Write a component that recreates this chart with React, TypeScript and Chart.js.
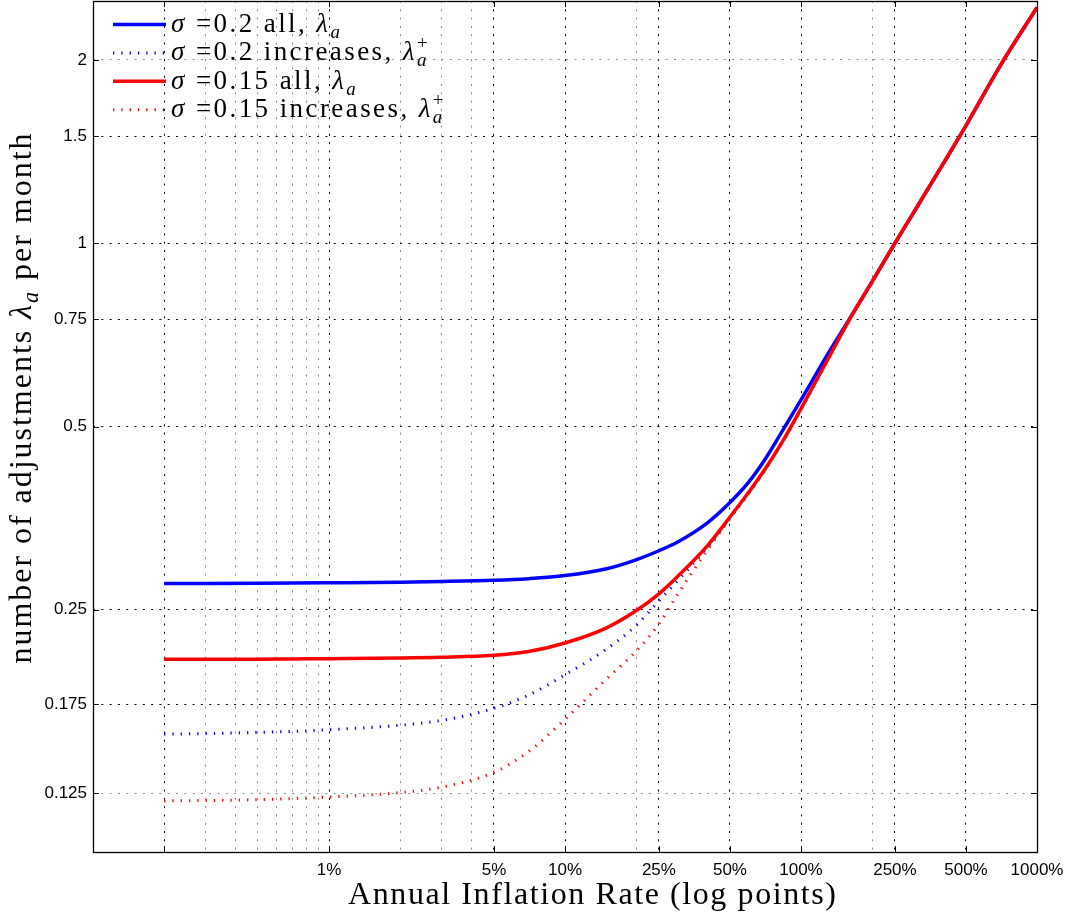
import React, { useEffect, useRef } from 'react';
import { Chart, registerables } from 'chart.js';

Chart.register(...registerables);

// ---- data (annual inflation in %, adjustments per month) ----
const inflation = [0.2, 0.3, 0.5, 0.7, 1, 2, 3, 5, 7, 10, 15, 20, 25, 30, 40, 50, 60, 70, 85, 100, 130, 160, 200, 250, 300, 400, 500, 700, 1000];

const sigma02All = [0.276, 0.2761, 0.2763, 0.2765, 0.2768, 0.2775, 0.2782, 0.2795, 0.2812, 0.2845, 0.292, 0.302, 0.3125, 0.323, 0.347, 0.375, 0.405, 0.44, 0.498, 0.553, 0.658, 0.75, 0.865, 1.0, 1.123, 1.35, 1.56, 1.96, 2.44];
const sigma02Inc = [0.1562, 0.1565, 0.1572, 0.1578, 0.1588, 0.1615, 0.1645, 0.1722, 0.181, 0.1955, 0.2155, 0.2355, 0.2585, 0.279, 0.316, 0.354, 0.389, 0.423, 0.477, 0.534, 0.644, 0.748, 0.864, 1.0, 1.123, 1.35, 1.56, 1.96, 2.44];
const sigma015All = [0.2073, 0.2073, 0.2074, 0.2076, 0.2078, 0.2083, 0.2089, 0.2105, 0.2135, 0.2205, 0.2335, 0.249, 0.2655, 0.2835, 0.318, 0.355, 0.39, 0.424, 0.478, 0.535, 0.645, 0.748, 0.864, 1.0, 1.123, 1.35, 1.56, 1.96, 2.44];
const sigma015Inc = [0.1213, 0.1215, 0.1219, 0.1224, 0.1231, 0.1252, 0.1278, 0.1352, 0.1462, 0.1652, 0.1925, 0.2137, 0.237, 0.265, 0.313, 0.353, 0.388, 0.423, 0.477, 0.534, 0.644, 0.748, 0.864, 1.0, 1.123, 1.35, 1.56, 1.96, 2.44];

const seriesLabels = ['σ =0.2 all, λₐ', 'σ =0.2 increases, λₐ⁺', 'σ =0.15 all, λₐ', 'σ =0.15 increases, λₐ⁺'];

const xTickValues = [1, 5, 10, 25, 50, 100, 250, 500, 1000];
const xTickLabels = ['1%', '5%', '10%', '25%', '50%', '100%', '250%', '500%', '1000%'];
const xDarkGrid = [0.2];
const xLightGrid = [0.3, 0.4, 0.5, 0.6, 0.7, 0.8, 0.9, 2, 3, 4, 20, 200];

const yTickValues = [0.125, 0.175, 0.25, 0.5, 0.75, 1, 1.5, 2];
const yTickLabels = ['0.125', '0.175', '0.25', '0.5', '0.75', '1', '1.5', '2'];
const yLightGrid = [0.125, 2];

const xTitle = 'Annual Inflation Rate (log points)';
const yTitle = 'number of adjustments λₐ per month';

const SERIF = "'Liberation Serif', 'Times New Roman', serif";
const SANS = "'Liberation Sans', Arial, Helvetica, sans-serif";

type Item = { ch: string; font: string; x: number; dy: number; w: number };

function layoutRich(ctx: CanvasRenderingContext2D, text: string, size: number, spacing: number) {
  const chars = Array.from(text);
  const items: Item[] = [];
  let x = 0;
  for (let i = 0; i < chars.length; i++) {
    const c = chars[i];
    let ch = c, italic = false, mode = 'n';
    if (c === 'ₐ') { ch = 'a'; italic = true; mode = 'sub'; }
    else if (c === '⁺') { ch = '+'; mode = 'sup'; }
    else if (c === 'σ' || c === 'λ') { italic = true; }
    const fs = mode === 'n' ? size : size * 0.7;
    const font = `${italic ? 'italic ' : ''}${fs}px ${SERIF}`;
    ctx.font = font;
    const w = ctx.measureText(ch).width;
    const dy = mode === 'sub' ? size * 0.22 : mode === 'sup' ? -size * 0.42 : 0;
    if (mode === 'sup' && i > 0 && chars[i - 1] === 'ₐ') {
      const prev = items[items.length - 1];
      items.push({ ch, font, x: prev.x, dy, w });
      x = prev.x + Math.max(prev.w, w) + spacing;
      continue;
    }
    items.push({ ch, font, x, dy, w });
    x += w + spacing;
  }
  return { items, width: x - spacing, n: Math.max(items.length - 1, 1) };
}

function fitSpacing(ctx: CanvasRenderingContext2D, text: string, size: number, target: number) {
  const l = layoutRich(ctx, text, size, 0);
  return (target - l.width) / l.n;
}

function drawRich(ctx: CanvasRenderingContext2D, text: string, size: number, spacing: number, x: number, y: number, align: 'left' | 'center') {
  const l = layoutRich(ctx, text, size, spacing);
  const x0 = align === 'center' ? x - l.width / 2 : x;
  ctx.textBaseline = 'alphabetic';
  ctx.textAlign = 'left';
  ctx.fillStyle = '#000';
  for (const it of l.items) {
    ctx.font = it.font;
    ctx.fillText(it.ch, x0 + it.x, y + it.dy);
  }
}

const decorPlugin = {
  id: 'decor',
  afterDraw(chart: any) {
    const ctx: CanvasRenderingContext2D = chart.ctx;
    const { left, right, top, bottom } = chart.chartArea;
    const xs = chart.scales.x;
    const ys = chart.scales.y;
    ctx.save();
    // inner tick marks
    ctx.strokeStyle = '#000';
    ctx.lineWidth = 1;
    ctx.setLineDash([]);
    ctx.beginPath();
    [...xTickValues, ...xDarkGrid].forEach((v) => {
      const px = Math.round(xs.getPixelForValue(v)) + 0.5;
      ctx.moveTo(px, bottom); ctx.lineTo(px, bottom - 6);
      ctx.moveTo(px, top); ctx.lineTo(px, top + 6);
    });
    yTickValues.forEach((v) => {
      const py = Math.round(ys.getPixelForValue(v)) + 0.5;
      ctx.moveTo(left, py); ctx.lineTo(left + 6, py);
      ctx.moveTo(right, py); ctx.lineTo(right - 6, py);
    });
    ctx.stroke();
    // frame
    ctx.lineWidth = 1.3;
    ctx.strokeRect(Math.round(left) + 0.5, Math.round(top) + 0.5, Math.round(right - left), Math.round(bottom - top));

    // legend
    const rowY0 = top + 23.5;
    const rowStep = 28.4;
    const legSize = 27;
    const legSpacing = fitSpacing(ctx, seriesLabels[1], legSize, 259);
    chart.data.datasets.forEach((ds: any, i: number) => {
      const y = rowY0 + i * rowStep;
      ctx.save();
      ctx.strokeStyle = ds.borderColor;
      ctx.lineWidth = ds.borderWidth;
      ctx.setLineDash(ds.borderDash || []);
      ctx.lineCap = 'butt';
      ctx.beginPath();
      ctx.moveTo(left + 20, y);
      ctx.lineTo(left + 73, y);
      ctx.stroke();
      ctx.restore();
      drawRich(ctx, ds.label, legSize, legSpacing, left + 78, y + 7.5, 'left');
    });

    // axis titles
    const tSize = 32;
    const xSp = fitSpacing(ctx, xTitle, tSize, 488);
    drawRich(ctx, xTitle, tSize, xSp, (left + right) / 2 + 27, bottom + 52, 'center');
    const ySp = fitSpacing(ctx, yTitle, tSize, 530);
    ctx.save();
    ctx.translate(31, (top + bottom) / 2 - 28);
    ctx.rotate(-Math.PI / 2);
    drawRich(ctx, yTitle, tSize, ySp, 0, 0, 'center');
    ctx.restore();
    ctx.restore();
  },
};

export default function App() {
  const ref = useRef<HTMLCanvasElement>(null);
  useEffect(() => {
    document.body.style.margin = '0';
    const canvas = ref.current;
    if (!canvas) return;
    const pts = (ys: number[]) => inflation.map((x, i) => ({ x, y: ys[i] }));
    const tickFont = { family: SANS, size: 17 };
    const chart = new Chart(canvas, {
      type: 'line',
      data: {
        datasets: [
          { label: seriesLabels[0], data: pts(sigma02All), borderColor: '#0000ff', borderWidth: 3.5, order: 3 },
          { label: seriesLabels[1], data: pts(sigma02Inc), borderColor: '#0000ff', borderWidth: 3, borderDash: [1.3, 7], order: 2 },
          { label: seriesLabels[2], data: pts(sigma015All), borderColor: '#ff0000', borderWidth: 3.5, order: 1 },
          { label: seriesLabels[3], data: pts(sigma015Inc), borderColor: '#ff0000', borderWidth: 3, borderDash: [1.3, 7], order: 0 },
        ].map((d) => ({ ...d, pointRadius: 0, fill: false, cubicInterpolationMode: 'monotone' as const })),
      },
      options: {
        animation: false,
        responsive: false,
        devicePixelRatio: 1,
        layout: { padding: { top: 1, right: 34, bottom: 0, left: 0 } },
        plugins: { legend: { display: false }, tooltip: { enabled: false }, title: { display: false } },
        scales: {
          x: {
            type: 'logarithmic',
            min: 0.1,
            max: 1000,
            afterBuildTicks: (s: any) => {
              s.ticks = [...xDarkGrid, ...xLightGrid, ...xTickValues].sort((a, b) => a - b).map((v) => ({ value: v }));
            },
            afterFit: (s: any) => { s.height = 61; s.paddingLeft = 0; s.paddingRight = 0; },
            ticks: {
              autoSkip: false, maxRotation: 0, minRotation: 0, padding: 8, color: '#000', font: tickFont,
              callback: (v: any) => { const i = xTickValues.indexOf(Number(v)); return i >= 0 ? xTickLabels[i] : ''; },
            },
            grid: {
              drawTicks: false, lineWidth: 1,
              color: (c: any) => {
                const v = c.tick ? c.tick.value : 0;
                return xTickValues.includes(v) || xDarkGrid.includes(v) ? '#000' : '#8c8c8c';
              },
            },
            border: { display: false, dash: [2, 6.3] },
          },
          y: {
            type: 'logarithmic',
            min: 0.1,
            max: 2.5,
            afterBuildTicks: (s: any) => { s.ticks = yTickValues.map((v) => ({ value: v })); },
            afterFit: (s: any) => { s.width = 93; s.paddingTop = 0; s.paddingBottom = 0; },
            ticks: {
              autoSkip: false, padding: 6, color: '#000', font: tickFont,
              callback: (v: any) => { const i = yTickValues.indexOf(Number(v)); return i >= 0 ? yTickLabels[i] : ''; },
            },
            grid: {
              drawTicks: false, lineWidth: 1,
              color: (c: any) => (c.tick && yLightGrid.includes(c.tick.value) ? '#8c8c8c' : '#000'),
            },
            border: { display: false, dash: [2, 6.3] },
          },
        },
      } as any,
      plugins: [decorPlugin],
    });
    return () => chart.destroy();
  }, []);
  return (
    <div style={{ width: 1071, height: 913 }}>
      <canvas ref={ref} width={1071} height={913} style={{ display: 'block' }} />
    </div>
  );
}
